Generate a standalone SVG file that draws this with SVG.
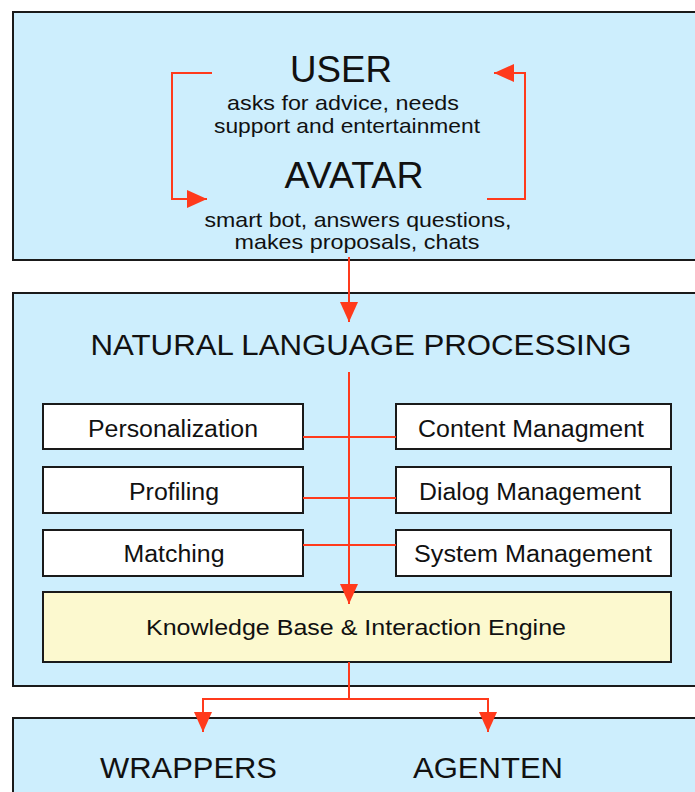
<svg xmlns="http://www.w3.org/2000/svg" width="695" height="792" viewBox="0 0 695 792">
<style>
.panel{fill:#cdeefd;stroke:#1a1a1a;stroke-width:2}
.box{fill:#ffffff;stroke:#1a1a1a;stroke-width:2}
.kb{fill:#fcf9cf;stroke:#1a1a1a;stroke-width:2}
text{font-family:"Liberation Sans",Arial,sans-serif;fill:#111;text-anchor:middle}
.big{font-size:36px}
.sub{font-size:21px}
.title{font-size:29px}
.lbl{font-size:23px}
.conn{fill:none;stroke:#ff3a1c;stroke-width:2}
</style>
<defs>
<marker id="ah" viewBox="0 0 20 18" refX="20" refY="9" markerWidth="20" markerHeight="18" markerUnits="userSpaceOnUse" orient="auto">
<path d="M0,0 L20,9 L0,18 Z" fill="#ff3a1c"/>
</marker>
</defs>
<g id="user-avatar">
<rect class="panel" x="13" y="12" width="690" height="248"/>
<text class="big" x="341" y="82" textLength="102" lengthAdjust="spacingAndGlyphs">USER</text>
<text class="sub" x="343" y="110" textLength="232" lengthAdjust="spacingAndGlyphs">asks for advice, needs</text>
<text class="sub" x="347" y="133" textLength="266" lengthAdjust="spacingAndGlyphs">support and entertainment</text>
<text class="big" x="354" y="188" textLength="139" lengthAdjust="spacingAndGlyphs">AVATAR</text>
<text class="sub" x="358" y="227" textLength="307" lengthAdjust="spacingAndGlyphs">smart bot, answers questions,</text>
<text class="sub" x="357" y="249" textLength="245" lengthAdjust="spacingAndGlyphs">makes proposals, chats</text>
</g>
<g id="nlp">
<rect class="panel" x="13" y="293" width="690" height="393"/>
<text class="title" x="361" y="355" textLength="541" lengthAdjust="spacingAndGlyphs">NATURAL LANGUAGE PROCESSING</text>
</g>
<g id="personalization"><rect class="box" x="43" y="404" width="260" height="45"/><text class="lbl" x="173" y="437" textLength="170" lengthAdjust="spacingAndGlyphs">Personalization</text></g>
<g id="profiling"><rect class="box" x="43" y="467" width="260" height="46"/><text class="lbl" x="174" y="500" textLength="90" lengthAdjust="spacingAndGlyphs">Profiling</text></g>
<g id="matching"><rect class="box" x="43" y="530" width="260" height="46"/><text class="lbl" x="174" y="562" textLength="101" lengthAdjust="spacingAndGlyphs">Matching</text></g>
<g id="content"><rect class="box" x="396" y="404" width="275" height="45"/><text class="lbl" x="531" y="437" textLength="226" lengthAdjust="spacingAndGlyphs">Content Managment</text></g>
<g id="dialog"><rect class="box" x="396" y="467" width="275" height="46"/><text class="lbl" x="530" y="500" textLength="222" lengthAdjust="spacingAndGlyphs">Dialog Management</text></g>
<g id="system"><rect class="box" x="396" y="530" width="275" height="46"/><text class="lbl" x="533" y="562" textLength="238" lengthAdjust="spacingAndGlyphs">System Management</text></g>
<g id="kb"><rect class="kb" x="43" y="592" width="628" height="70"/><text class="lbl" x="356" y="635" textLength="420" lengthAdjust="spacingAndGlyphs" style="font-size:22px">Knowledge Base &amp; Interaction Engine</text></g>
<g id="bottom">
<rect class="panel" x="13" y="718" width="690" height="90"/>
<text class="title" x="188.5" y="778" textLength="177" lengthAdjust="spacingAndGlyphs" style="font-size:30px">WRAPPERS</text>
<text class="title" x="488" y="778" textLength="150" lengthAdjust="spacingAndGlyphs" style="font-size:30px">AGENTEN</text>
</g>
<g id="connectors">
<path class="conn" d="M212,73 H172 V199 H207" marker-end="url(#ah)"/>
<path class="conn" d="M487,199 H525 V73 H494" marker-end="url(#ah)"/>
<path class="conn" d="M349,257 V322" marker-end="url(#ah)"/>
<path class="conn" d="M349,372 V604" marker-end="url(#ah)"/>
<path class="conn" d="M303,437 H396 M303,498 H396 M303,545 H396"/>
<path class="conn" d="M349,662 V699 H203 V732" marker-end="url(#ah)"/>
<path class="conn" d="M349,699 H488 V732" marker-end="url(#ah)"/>
</g>
</svg>
